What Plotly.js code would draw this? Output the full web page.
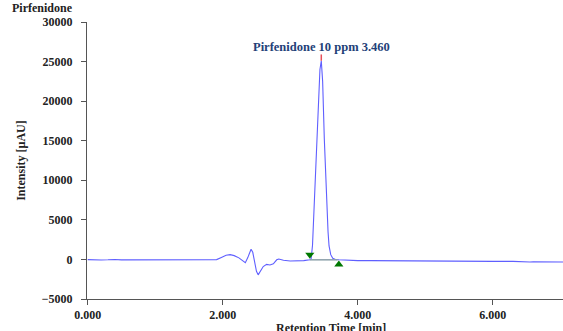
<!DOCTYPE html>
<html>
<head>
<meta charset="utf-8">
<script src="https://cdn.plot.ly/plotly-3.0.1.min.js"></script>
<style>html,body{margin:0;padding:0;background:#fff;}#chart{width:563px;height:331px;}</style>
</head>
<body>
<div id="chart"></div>
<script>
// Chromatogram trace: retention time (min) and intensity (µAU)
const timeMin = [0.00, 0.05, 0.10, 0.15, 0.20, 0.30, 0.40, 0.50, 0.70, 1.00, 1.30, 1.50, 1.60, 1.70, 1.85,
  1.91, 1.98, 2.05, 2.11, 2.17, 2.24, 2.30, 2.335, 2.37, 2.40, 2.42, 2.445, 2.47, 2.50, 2.525, 2.56, 2.60, 2.65,
  2.70, 2.75, 2.80, 2.83, 2.90, 3.00, 3.10, 3.20, 3.29,
  3.31, 3.33, 3.355, 3.375, 3.395, 3.42, 3.44, 3.46, 3.48, 3.505, 3.525, 3.54, 3.56, 3.575, 3.60, 3.63, 3.67,
  3.72, 3.80, 4.00, 4.20, 4.50, 5.00, 5.50, 6.00, 6.30, 6.45, 6.50, 6.55, 6.60, 6.80, 7.05];
const intensity = [-30, -60, 0, -40, -80, -50, 0, -60, -50, -60, -60, -40, 20, -40, -50,
  -20, 250, 520, 600, 480, 200, -250, -420, 200, 1000, 1280, 900, -300, -1500, -1950, -1500, -900, -620,
  -700, -550, -50, 50, -100, -200, -200, -150, -50,
  100, 1800, 6700, 11000, 15200, 20500, 24000, 25100, 22500, 15200, 10000, 6700, 3500, 1700, 600, 150, 0,
  -50, -100, -150, -150, -180, -200, -220, -250, -250, -330, -300, -330, -300, -300, -320];

// Integration markers
const peakStart = {t: [3.29], v: [600]};
const peakEnd = {t: [3.72], v: [-650]};
const baselineT = [3.29, 3.70];
const baselineV = [-50, -50];
const apexT = [3.46, 3.46];
const apexV = [25100, 25900];
const peakLabel = 'Pirfenidone 10 ppm 3.460';

const serif = 'Liberation Serif, Times New Roman, serif';

const traces = [
  {x: timeMin, y: intensity, type: 'scatter', mode: 'lines',
   line: {color: 'rgb(95,95,255)', width: 1.1}, hoverinfo: 'none'},
  {x: baselineT, y: baselineV, type: 'scatter', mode: 'lines',
   line: {color: 'rgb(140,160,170)', width: 1.5}, hoverinfo: 'none'},
  {x: apexT, y: apexV, type: 'scatter', mode: 'lines',
   line: {color: 'rgb(230,80,90)', width: 1.5}, hoverinfo: 'none'},
  {x: peakStart.t, y: peakStart.v, type: 'scatter', mode: 'markers',
   marker: {symbol: 'triangle-down', size: 8, color: 'rgb(0,120,0)'}, hoverinfo: 'none'},
  {x: peakEnd.t, y: peakEnd.v, type: 'scatter', mode: 'markers',
   marker: {symbol: 'triangle-up', size: 8, color: 'rgb(0,120,0)'}, hoverinfo: 'none'}
];

const layout = {
  width: 563, height: 331,
  margin: {l: 87, r: 0, t: 22, b: 32, pad: 0},
  paper_bgcolor: '#fff', plot_bgcolor: '#fff',
  showlegend: false,
  font: {family: serif, size: 12, color: '#222'},
  xaxis: {
    range: [-0.01, 7.04], dtick: 2, tick0: 0, tickformat: '.3f',
    showgrid: false, zeroline: false, showline: true, linecolor: '#555', linewidth: 1,
    ticks: 'outside', ticklen: 5, tickcolor: '#555', ticklabelstandoff: 0,
    tickfont: {family: serif, size: 12, color: '#222', weight: 'bold'}
  },
  yaxis: {
    range: [-5000, 30000], dtick: 5000, tick0: 0, tickformat: 'd', exponentformat: 'none',
    showgrid: false, zeroline: false, showline: true, linecolor: '#555', linewidth: 1,
    ticks: 'outside', ticklen: 5, tickcolor: '#555', ticklabelstandoff: 6,
    tickfont: {family: serif, size: 12, color: '#222', weight: 'bold'}
  },
  annotations: [
    {xref: 'paper', yref: 'paper', x: -0.162, y: 1.05, xanchor: 'left', yanchor: 'middle',
     text: '<b>Pirfenidone</b>', showarrow: false, font: {family: serif, size: 12, color: '#222'}},
    {xref: 'paper', yref: 'paper', x: -0.14, y: 0.5, xanchor: 'center', yanchor: 'middle', textangle: -90,
     text: '<b>Intensity [µAU]</b>', showarrow: false, font: {family: serif, size: 12, color: '#222'}},
    {xref: 'paper', yref: 'paper', x: 0.513, y: -0.104, xanchor: 'center', yanchor: 'middle',
     text: '<b>Retention Time [min]</b>', showarrow: false, font: {family: serif, size: 12, color: '#222'}},
    {xref: 'x', yref: 'y', x: apexT[0], y: 26900, xanchor: 'center', yanchor: 'middle',
     text: '<b>' + peakLabel + '</b>', showarrow: false, font: {family: serif, size: 12.5, color: 'rgb(35,65,120)'}}
  ]
};

Plotly.newPlot('chart', traces, layout, {displayModeBar: false, staticPlot: true});
</script>
</body>
</html>
